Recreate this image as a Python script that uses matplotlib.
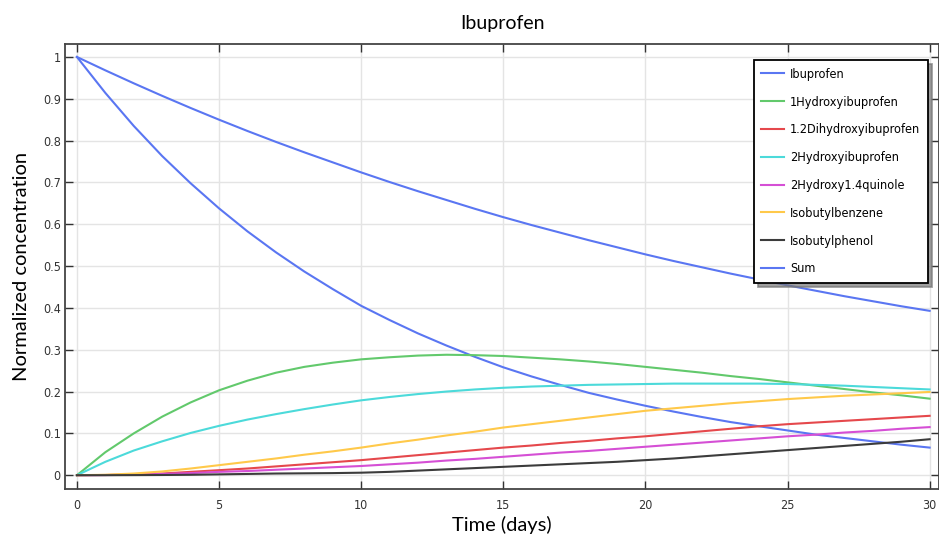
import matplotlib
matplotlib.use('Agg')
import matplotlib.pyplot as plt

# time in days
days = list(range(31))

ibuprofen = [1.0, 0.914, 0.835, 0.763, 0.698, 0.638, 0.583, 0.533, 0.487, 0.445,
             0.405, 0.371, 0.339, 0.310, 0.283, 0.258, 0.236, 0.216, 0.197, 0.181,
             0.166, 0.152, 0.139, 0.127, 0.117, 0.107, 0.097, 0.089, 0.081, 0.073, 0.066]
hydroxy1 = [0.0, 0.055, 0.100, 0.140, 0.174, 0.203, 0.226, 0.245, 0.259, 0.269,
            0.277, 0.282, 0.286, 0.288, 0.287, 0.285, 0.281, 0.277, 0.272, 0.266,
            0.259, 0.252, 0.245, 0.237, 0.230, 0.222, 0.214, 0.206, 0.198, 0.191, 0.183]
dihydroxy12 = [0.0, 0.0005, 0.002, 0.004, 0.008, 0.012, 0.016, 0.021, 0.026, 0.031,
               0.036, 0.042, 0.048, 0.054, 0.060, 0.066, 0.071, 0.077, 0.082, 0.088,
               0.093, 0.099, 0.105, 0.111, 0.117, 0.122, 0.126, 0.130, 0.134, 0.138, 0.142]
hydroxy2 = [0.0, 0.032, 0.059, 0.081, 0.101, 0.118, 0.133, 0.146, 0.158, 0.169,
            0.179, 0.187, 0.194, 0.200, 0.205, 0.209, 0.212, 0.214, 0.216, 0.217,
            0.218, 0.219, 0.219, 0.219, 0.219, 0.218, 0.216, 0.214, 0.211, 0.208, 0.205]
quinole = [0.0, 0.0003, 0.001, 0.003, 0.005, 0.008, 0.010, 0.013, 0.016, 0.019,
           0.022, 0.026, 0.030, 0.035, 0.039, 0.044, 0.049, 0.054, 0.058, 0.063,
           0.068, 0.073, 0.078, 0.083, 0.088, 0.093, 0.097, 0.102, 0.106, 0.111, 0.115]
isobutylbenzene = [0.0, 0.001, 0.004, 0.009, 0.016, 0.024, 0.032, 0.040, 0.049, 0.057,
                   0.066, 0.076, 0.085, 0.095, 0.104, 0.114, 0.122, 0.130, 0.138, 0.146,
                   0.154, 0.160, 0.166, 0.172, 0.177, 0.182, 0.186, 0.190, 0.193, 0.196, 0.199]
isobutylphenol = [0.0, 0.0, 0.0002, 0.0005, 0.001, 0.002, 0.003, 0.004, 0.0045, 0.005,
                  0.006, 0.008, 0.011, 0.014, 0.017, 0.020, 0.023, 0.026, 0.029, 0.032,
                  0.036, 0.040, 0.045, 0.050, 0.055, 0.060, 0.065, 0.070, 0.075, 0.080, 0.086]
total = [1.0, 0.968, 0.937, 0.907, 0.878, 0.850, 0.823, 0.797, 0.772, 0.748,
         0.724, 0.701, 0.679, 0.658, 0.637, 0.617, 0.598, 0.580, 0.562, 0.545,
         0.528, 0.512, 0.497, 0.482, 0.468, 0.454, 0.441, 0.428, 0.416, 0.404, 0.393]

series = [
    ('Ibuprofen', ibuprofen, '#5a76f2'),
    ('1Hydroxyibuprofen', hydroxy1, '#62c96c'),
    ('1.2Dihydroxyibuprofen', dihydroxy12, '#e5484c'),
    ('2Hydroxyibuprofen', hydroxy2, '#4cdada'),
    ('2Hydroxy1.4quinole', quinole, '#d54fd5'),
    ('Isobutylbenzene', isobutylbenzene, '#ffc94a'),
    ('Isobutylphenol', isobutylphenol, '#3c3c3c'),
    ('Sum', total, '#5a76f2'),
]

fig = plt.figure(figsize=(9.39, 5.38), dpi=100)
ax = fig.add_axes([65 / 939, 49 / 538, 874 / 939, 445 / 538])

for name, vals, col in series:
    ax.plot(days, vals, color=col, lw=1.5, label=name)

ax.set_xlim(-0.42, 30.33)
ax.set_ylim(-0.033, 1.031)
ax.set_xticks([0, 5, 10, 15, 20, 25, 30])
ax.set_yticks([0, 0.1, 0.2, 0.3, 0.4, 0.5, 0.6, 0.7, 0.8, 0.9, 1])
ax.set_yticklabels(['0', '0.1', '0.2', '0.3', '0.4', '0.5', '0.6', '0.7', '0.8', '0.9', '1'])
ax.grid(True, color='#e4e4e4', lw=1)
ax.set_axisbelow(True)
ax.tick_params(direction='in', length=6, width=1, top=True, right=True,
               colors='#333333', labelsize=9)
ax.tick_params(axis='y', pad=3)
ax.tick_params(axis='x', pad=7)
for lab in ax.get_xticklabels() + ax.get_yticklabels():
    lab.set_fontstretch('condensed')
for sp in ax.spines.values():
    sp.set_color('#444444')
    sp.set_linewidth(1.3)

ax.set_title('Ibuprofen', fontsize=14, family='Lato', pad=11)
ax.set_xlabel('Time (days)', fontsize=14.5, family='Lato', labelpad=3)
ax.set_ylabel('Normalized concentration', fontsize=14.5, family='Lato', labelpad=9)

leg = ax.legend(loc='upper right', bbox_to_anchor=(928 / 939, 1 - 60 / 538),
                bbox_transform=fig.transFigure, borderaxespad=0, fancybox=False,
                shadow={'ox': 3, 'oy': -3, 'color': '#777777', 'alpha': 0.7},
                prop={'size': 9.1, 'stretch': 'condensed'}, labelspacing=1.17,
                handlelength=1.8, handletextpad=0.45, borderpad=0.62, framealpha=1)
leg.get_frame().set_edgecolor('black')
leg.get_frame().set_linewidth(1.3)

fig.savefig('out.png', dpi=100)
